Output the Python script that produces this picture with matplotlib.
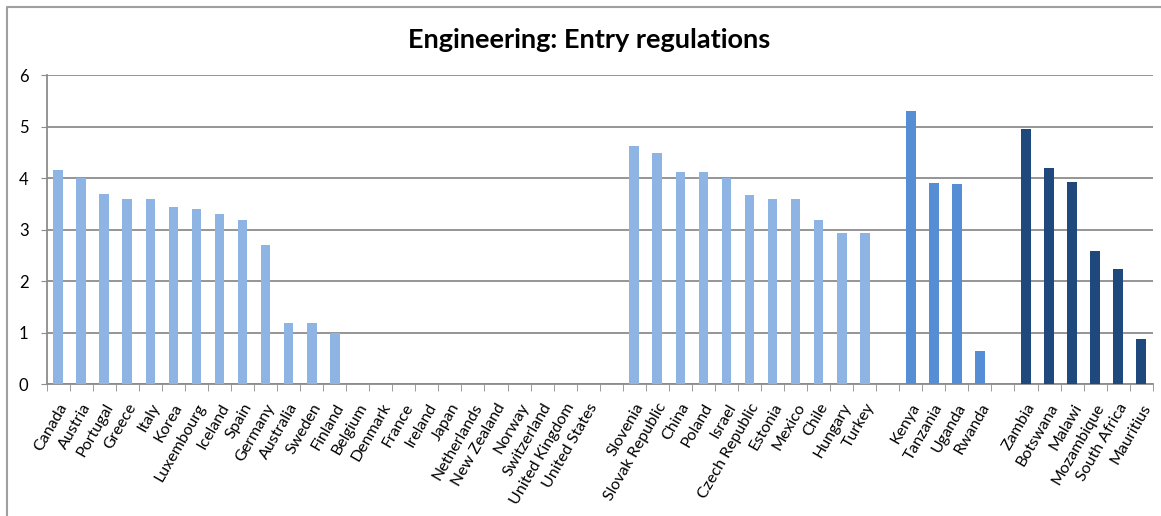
import matplotlib.pyplot as plt
import numpy as np
from matplotlib.lines import Line2D

countries = ['Canada', 'Austria', 'Portugal', 'Greece', 'Italy', 'Korea', 'Luxembourg',
             'Iceland', 'Spain', 'Germany', 'Australia', 'Sweden', 'Finland', 'Belgium',
             'Denmark', 'France', 'Ireland', 'Japan', 'Netherlands', 'New Zealand', 'Norway',
             'Switzerland', 'United Kingdom', 'United States', '',
             'Slovenia', 'Slovak Republic', 'China', 'Poland', 'Israel', 'Czech Republic',
             'Estonia', 'Mexico', 'Chile', 'Hungary', 'Turkey', '',
             'Kenya', 'Tanzania', 'Uganda', 'Rwanda', '',
             'Zambia', 'Botswana', 'Malawi', 'Mozambique', 'South Africa', 'Mauritius']

values = [4.17, 4.0, 3.7, 3.6, 3.6, 3.45, 3.4, 3.3, 3.2, 2.7, 1.2, 1.2, 1.0, 0,
          0, 0, 0, 0, 0, 0, 0, 0, 0, 0, 0,
          4.62, 4.49, 4.12, 4.12, 4.0, 3.67, 3.6, 3.6, 3.19, 2.93, 2.93, 0,
          5.31, 3.91, 3.89, 0.65, 0,
          4.96, 4.2, 3.93, 2.59, 2.24, 0.88]

# colour group for each category: 0 = OECD/other, 1 = East Africa, 2 = Southern Africa
groups = [0] * 37 + [1] * 5 + [2] * 6
group_colors = ['#8EB4E3', '#558ED5', '#1F497D']

plt.rcParams['font.family'] = ['Lato', 'DejaVu Sans']

fig = plt.figure(figsize=(11.61, 5.16), dpi=100)
ax = fig.add_axes([0.0402, 0.2552, 0.9527, 0.5988])

x = np.arange(len(countries))
cols = [group_colors[g] for g in groups]
ax.bar(x, values, width=0.42, color=cols, zorder=3)

ax.set_xlim(-0.5, len(countries) - 0.5)
ax.set_ylim(0, 6)
ax.set_yticks(range(7))
ax.yaxis.grid(True, color='#8C8C8C', linewidth=1.3, zorder=0)
ax.tick_params(axis='y', length=4, color='#8C8C8C', labelsize=12, pad=9)

ax.set_xticks(x)
ax.set_xticklabels(countries, rotation=60, ha='right', rotation_mode='anchor', fontsize=11.5)
ax.tick_params(axis='x', which='major', length=0, pad=12)
ax.set_xticks(np.arange(len(countries) + 1) - 0.5, minor=True)
ax.tick_params(axis='x', which='minor', length=5, color='#8C8C8C')

for s in ['top', 'right']:
    ax.spines[s].set_visible(False)
for s in ['left', 'bottom']:
    ax.spines[s].set_color('#8C8C8C')
    ax.spines[s].set_linewidth(1.3)

fig.text(0.507, 0.923, 'Engineering: Entry regulations', ha='center', va='center',
         fontsize=19.5, fontweight='bold')

# chart area border (only top and left edges fall inside the image)
fig.add_artist(Line2D([0.006, 0.006, 1.0], [0.0, 0.987, 0.987], transform=fig.transFigure,
                      color='#A0A0A0', linewidth=1.5))

plt.savefig('out.png')
